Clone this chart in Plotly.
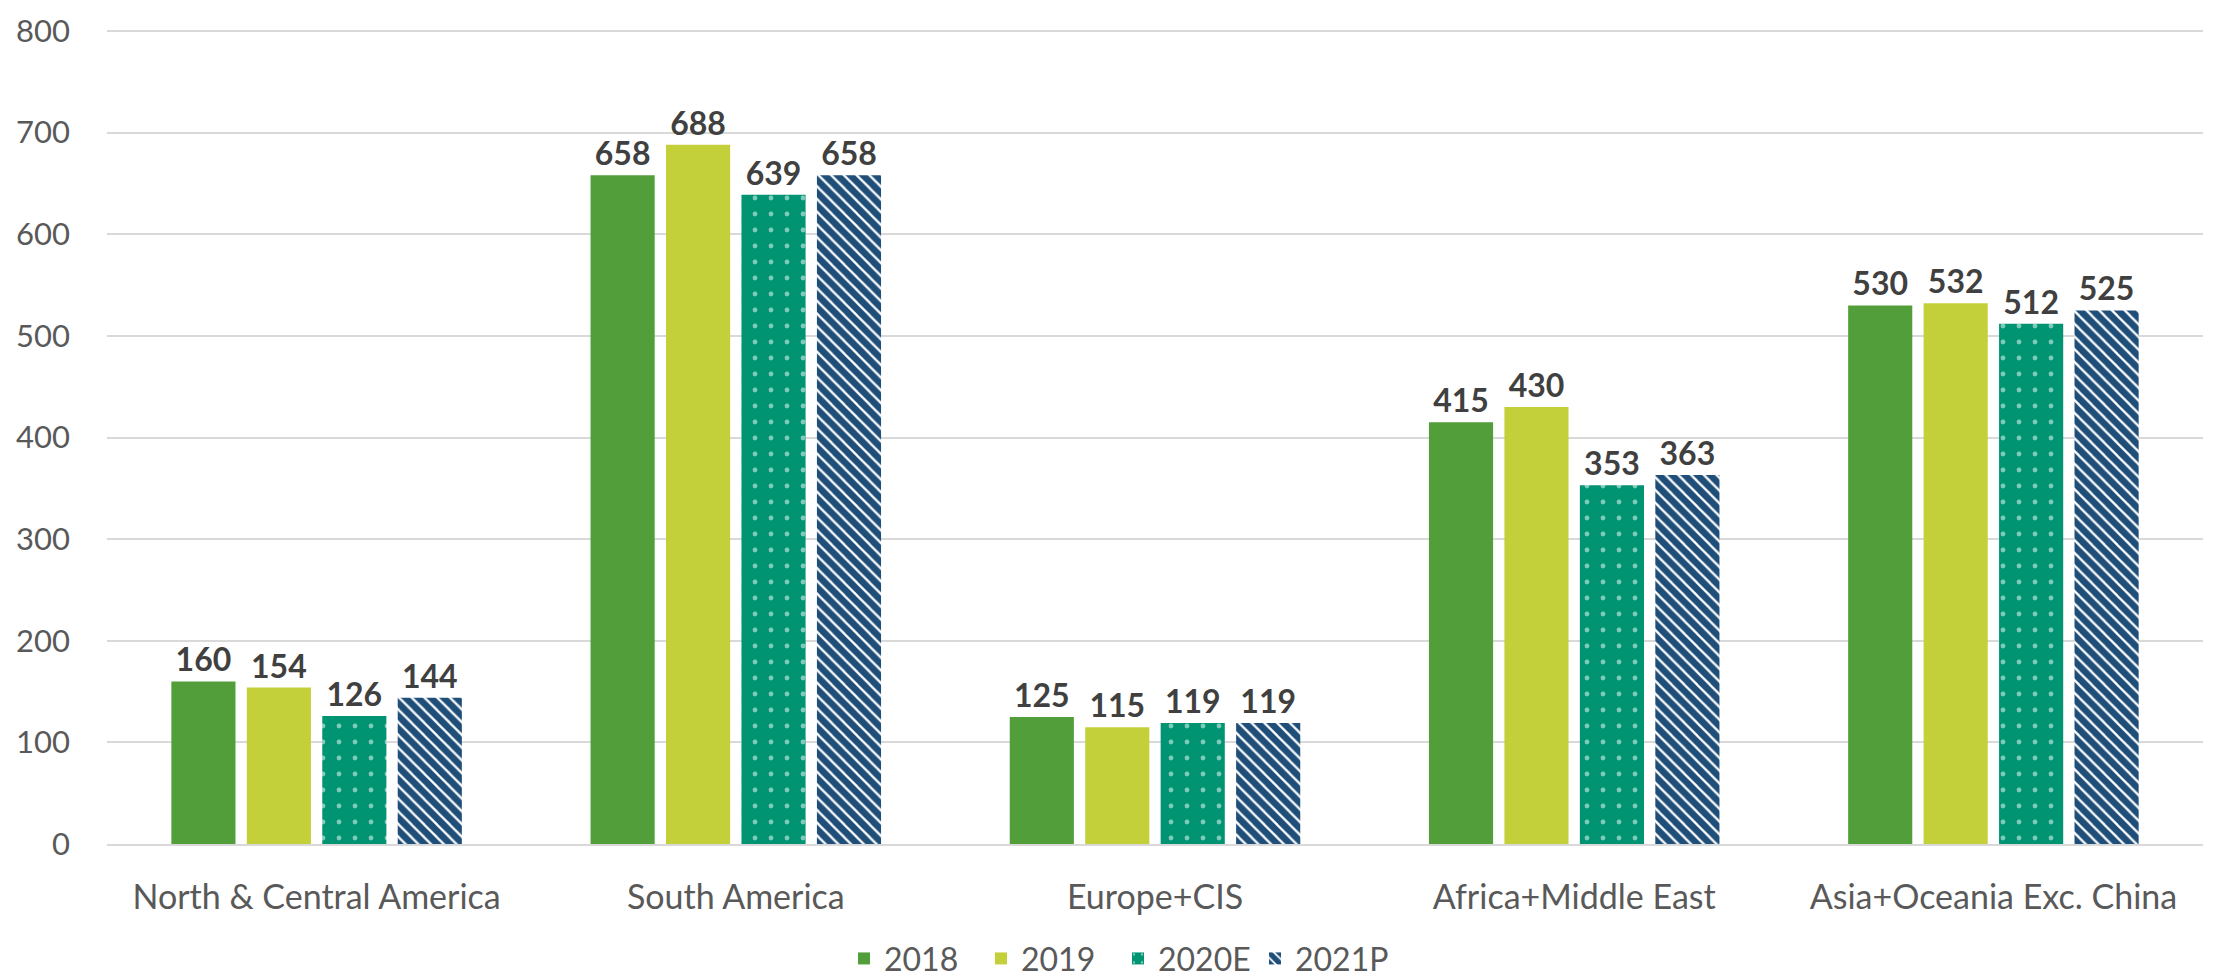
import plotly.graph_objects as go

categories = ["North & Central America", "South America", "Europe+CIS",
              "Africa+Middle East", "Asia+Oceania Exc. China"]
v2018 = [160, 658, 125, 415, 530]
v2019 = [154, 688, 115, 430, 532]
v2020e = [126, 639, 119, 353, 512]
v2021p = [144, 658, 119, 363, 525]

font_family = "Lato, Carlito, Calibri, sans-serif"
label_font = dict(family=font_family, size=32, color="#404040")

fig = go.Figure()

fig.add_trace(go.Bar(
    x=categories, y=v2018, name="2018",
    marker=dict(color="#529E3A", line=dict(width=0)),
    text=v2018, textposition="outside", textfont=label_font,
))
fig.add_trace(go.Bar(
    x=categories, y=v2019, name="2019",
    marker=dict(color="#C4D03A", line=dict(width=0)),
    text=v2019, textposition="outside", textfont=label_font,
))
fig.add_trace(go.Bar(
    x=categories, y=v2020e, name="2020E",
    marker=dict(color="#009473", line=dict(width=0),
                pattern=dict(shape=".", fgcolor="white", bgcolor="#009473",
                             size=16, solidity=0.07)),
    text=v2020e, textposition="outside", textfont=label_font,
))
fig.add_trace(go.Bar(
    x=categories, y=v2021p, name="2021P",
    marker=dict(color="#1F4E79", line=dict(width=0),
                pattern=dict(shape="\\", fgcolor="#1F4E79", bgcolor="white",
                             size=9, solidity=0.75, fgopacity=1)),
    text=v2021p, textposition="outside", textfont=label_font,
))

fig.update_traces(texttemplate="<b>%{text}</b>", cliponaxis=False)

fig.update_layout(
    width=2220, height=974,
    paper_bgcolor="white", plot_bgcolor="white",
    margin=dict(l=99, r=25, t=22, b=138),
    barmode="group", bargap=0.28, bargroupgap=0.15,
    font=dict(family=font_family, size=30, color="#595959"),
    xaxis=dict(showgrid=False, showline=True, linecolor="#D9D9D9", linewidth=2,
               tickfont=dict(size=34, color="#595959"), ticks="",
               ticklabelstandoff=22, automargin=False),
    yaxis=dict(range=[0, 801], tickvals=[0, 100, 200, 300, 400, 500, 600, 700, 800],
               showgrid=True, gridcolor="#D9D9D9",
               gridwidth=2, zeroline=False, ticks="", ticklabelstandoff=36,
               tickfont=dict(size=31, color="#595959"), automargin=False),
    legend=dict(orientation="h", xref="container", x=0.5, xanchor="center",
                yref="container", y=0.024, yanchor="middle",
                font=dict(size=32, color="#595959"), itemwidth=30,
                entrywidth=92, entrywidthmode="pixels",
                traceorder="normal"),
    showlegend=True,
)

fig.write_html("out.html")
